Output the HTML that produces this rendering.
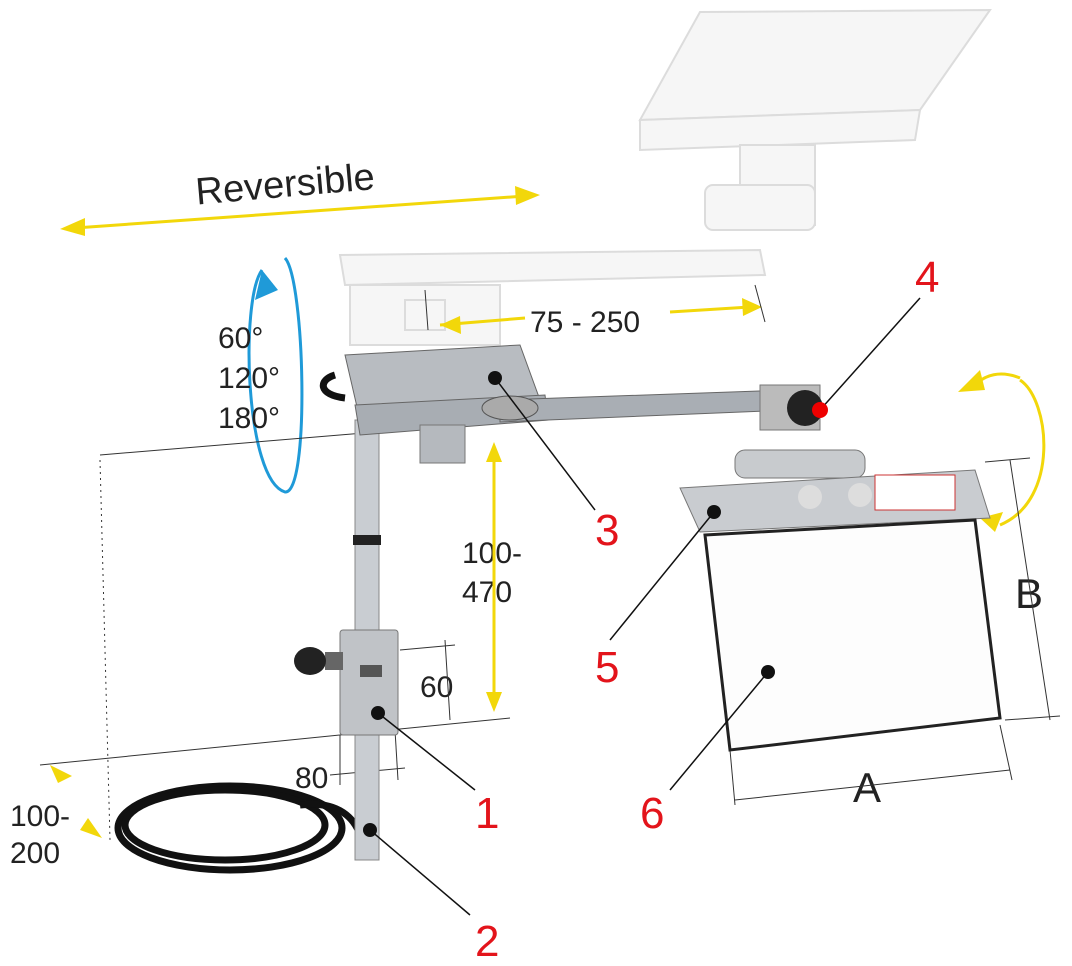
<!DOCTYPE html>
<html><head><meta charset="utf-8"><style>
html,body{margin:0;padding:0;background:#fff;}
svg{display:block;font-family:"Liberation Sans",sans-serif;}
</style></head><body>
<svg width="1072" height="966" viewBox="0 0 1072 966" xmlns="http://www.w3.org/2000/svg">
<rect width="1072" height="966" fill="#fff"/>
<!-- ghost (faded) upper assembly -->
<g fill="#f6f6f6" stroke="#dcdcdc" stroke-width="2">
<polygon points="700,12 990,10 920,110 640,120"/>
<polygon points="640,120 920,110 915,140 640,150"/>
<rect x="740" y="145" width="75" height="80"/>
<rect x="705" y="185" width="110" height="45" rx="8"/>
<polygon points="340,255 760,250 765,275 345,285"/>
<rect x="350" y="285" width="150" height="60"/>
<rect x="405" y="300" width="40" height="30"/>
</g>
<!-- Reversible arrow -->
<text x="195" y="196" font-size="38" fill="#222" transform="rotate(-5 295 180)">Reversible</text>
<line x1="75" y1="228" x2="525" y2="196" stroke="#f2d70a" stroke-width="3"/>
<polygon points="60,229 85,218 85,236" fill="#f2d70a"/>
<polygon points="540,195 515,186 516,205" fill="#f2d70a"/>
<!-- blue rotation -->
<path d="M262,270 C240,300 245,480 285,492 C310,495 305,280 285,258" fill="none" stroke="#1f9ad8" stroke-width="3"/>
<polygon points="255,300 262,270 278,290" fill="#1f9ad8"/>
<g font-size="30" fill="#222">
<text x="218" y="348">60°</text><text x="218" y="388">120°</text><text x="218" y="428">180°</text>
<text x="530" y="332">75 - 250</text>
<text x="462" y="563">100-</text><text x="462" y="602">470</text>
<text x="420" y="697">60</text><text x="295" y="788">80</text>
<text x="10" y="826">100-</text><text x="10" y="863">200</text>
</g>
<text x="1015" y="608" font-size="42" fill="#222">B</text>
<text x="853" y="802" font-size="42" fill="#222">A</text>
<!-- yellow dimension arrows -->
<g stroke="#f2d70a" stroke-width="3" fill="none">
<line x1="440" y1="325" x2="525" y2="318"/><line x1="670" y1="312" x2="750" y2="307"/>
<line x1="494" y1="455" x2="494" y2="700"/>
<path d="M1020,380 C1050,400 1060,500 1000,525"/>
<path d="M1020,378 C1000,370 985,375 975,385"/>
</g>
<g fill="#f2d70a">
<polygon points="440,325 460,316 461,334"/><polygon points="762,307 742,298 743,316"/>
<polygon points="494,442 486,462 502,462"/><polygon points="494,712 486,692 502,692"/>
<polygon points="958,392 980,370 985,390"/><polygon points="980,518 1003,512 995,532"/>
<polygon points="50,765 72,776 58,783"/><polygon points="102,838 88,818 80,830"/>
</g>
<!-- thin dim lines -->
<g stroke="#333" stroke-width="1" fill="none">
<line x1="100" y1="455" x2="520" y2="420"/><line x1="40" y1="765" x2="510" y2="718"/>
<line x1="100" y1="460" x2="110" y2="840" stroke-dasharray="2,4"/>
<line x1="400" y1="650" x2="455" y2="645"/><line x1="445" y1="640" x2="450" y2="720"/>
<line x1="330" y1="775" x2="405" y2="768"/><line x1="340" y1="735" x2="340" y2="785"/><line x1="395" y1="730" x2="398" y2="780"/>
<line x1="985" y1="462" x2="1030" y2="458"/><line x1="1010" y1="460" x2="1050" y2="720"/><line x1="1005" y1="720" x2="1060" y2="716"/>
<line x1="735" y1="800" x2="1010" y2="770"/><line x1="730" y1="750" x2="735" y2="805"/><line x1="1000" y1="725" x2="1012" y2="780"/>
<line x1="425" y1="290" x2="428" y2="330"/><line x1="755" y1="285" x2="765" y2="322"/>
</g>
<!-- cable coil -->
<g fill="none" stroke="#111" stroke-width="7">
<ellipse cx="230" cy="828" rx="112" ry="42"/><ellipse cx="225" cy="825" rx="100" ry="35"/>
<path d="M300,805 C340,800 355,820 360,835"/>
<path d="M335,375 C318,380 318,395 345,398"/>
</g>
<!-- pole -->
<rect x="355" y="420" width="24" height="440" fill="#c9cdd2" stroke="#888"/>
<rect x="353" y="535" width="28" height="10" fill="#222"/>
<!-- clamp -->
<rect x="340" y="630" width="58" height="105" fill="#c0c3c7" stroke="#777" rx="3"/>
<rect x="360" y="665" width="22" height="12" fill="#555"/>
<rect x="325" y="652" width="18" height="18" fill="#666"/>
<ellipse cx="310" cy="661" rx="16" ry="14" fill="#222"/>
<!-- main bracket -->
<polygon points="345,355 520,345 540,400 360,420" fill="#b8bcc1" stroke="#666"/>
<polygon points="355,405 545,395 548,420 360,435" fill="#a8adb3" stroke="#666"/>
<rect x="420" y="425" width="45" height="38" fill="#b5b9be" stroke="#777"/>
<polygon points="500,400 790,390 790,410 500,422" fill="#a9aeb4" stroke="#666"/>
<ellipse cx="510" cy="408" rx="28" ry="12" fill="#aaa" stroke="#555"/>
<!-- knob & hinge -->
<rect x="760" y="385" width="60" height="45" fill="#bbb" stroke="#777"/>
<circle cx="805" cy="408" r="18" fill="#222"/>
<rect x="735" y="450" width="130" height="28" rx="10" fill="#c8cbce" stroke="#777"/>
<!-- plate -->
<polygon points="680,488 975,470 990,518 700,532" fill="#c9ccd0" stroke="#777"/>
<rect x="875" y="475" width="80" height="35" fill="#fff" stroke="#c33"/>
<circle cx="810" cy="497" r="12" fill="#ddd"/><circle cx="860" cy="495" r="12" fill="#ddd"/>
<polygon points="705,535 975,520 1000,718 730,750" fill="#fdfdfd" stroke="#222" stroke-width="3"/>
<!-- leaders -->
<g stroke="#111" stroke-width="1.5">
<line x1="378" y1="713" x2="475" y2="790"/><line x1="370" y1="830" x2="470" y2="915"/>
<line x1="495" y1="378" x2="595" y2="510"/><line x1="820" y1="410" x2="920" y2="298"/>
<line x1="714" y1="512" x2="610" y2="640"/><line x1="768" y1="672" x2="670" y2="790"/>
</g>
<g fill="#111"><circle cx="378" cy="713" r="7"/><circle cx="370" cy="830" r="7"/><circle cx="495" cy="378" r="7"/><circle cx="714" cy="512" r="7"/><circle cx="768" cy="672" r="7"/></g>
<circle cx="820" cy="410" r="8" fill="#e00"/>
<g font-size="44" fill="#e3141b">
<text x="915" y="292">4</text><text x="595" y="545">3</text><text x="595" y="682">5</text>
<text x="475" y="828">1</text><text x="640" y="828">6</text><text x="475" y="956">2</text>
</g>
</svg>
</body></html>
